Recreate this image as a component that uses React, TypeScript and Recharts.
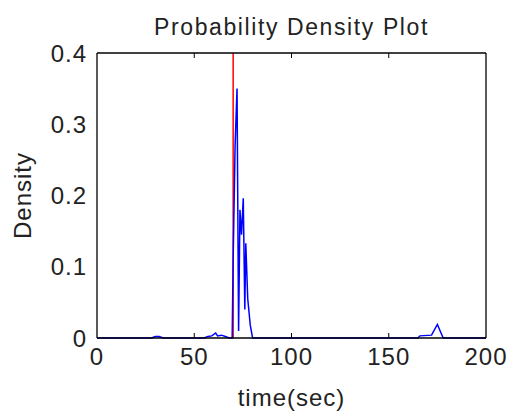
import { LineChart, Line, XAxis, YAxis, ReferenceLine } from 'recharts';

// density curve
const times = [
    0, 28, 30, 32, 34, 55, 57, 59, 61, 62, 64, 66, 68, 69.5, 70, 71, 72, 72.8, 73.5, 74.3, 75.2, 76,
    76.5, 77.5, 78.8, 80, 82, 165, 166, 172, 175, 178, 200,
];
const density = [
    0, 0, 0.002, 0.002, 0, 0, 0.002, 0.003, 0.007, 0.003, 0.004, 0.002, 0, 0, 0.11, 0.27, 0.35, 0.01,
    0.18, 0.145, 0.196, 0.04, 0.133, 0.055, 0.018, 0, 0, 0, 0.003, 0.004, 0.019, 0, 0,
];
const thresholdTime = 70;

const xTicks = [0, 50, 100, 150, 200];
const yTicks = [0, 0.1, 0.2, 0.3, 0.4];
const xInner = [50, 100, 150];
const yInner = [0.1, 0.2, 0.3];

const font = '"Liberation Sans", Arial, sans-serif';
const tickStyle = { fontSize: 24, fill: '#222', fontFamily: font, letterSpacing: 1 };
const noLabel = () => '';

export default function App() {
    const data = times.map((t, i) => ({ t, d: density[i] }));

    return (
        <div style={{ position: 'absolute', left: 0, top: 0, width: 509, height: 412, background: '#fff' }}>
            <div
                style={{
                    position: 'absolute',
                    left: 97,
                    width: 389,
                    top: 16,
                    textAlign: 'center',
                    fontFamily: font,
                    fontSize: 23,
                    lineHeight: '23px',
                    letterSpacing: 1.6,
                    color: '#222',
                }}
            >
                Probability Density Plot
            </div>
            <LineChart width={509} height={412} data={data} margin={{ top: 53, right: 23, bottom: 0, left: 0 }}>
                <XAxis
                    dataKey="t"
                    type="number"
                    domain={[0, 200]}
                    ticks={xTicks}
                    tickLine={false}
                    tickSize={0}
                    tickMargin={10}
                    height={74}
                    axisLine={{ stroke: '#000', strokeWidth: 1.3 }}
                    tick={tickStyle}
                    label={{ value: 'time(sec)', position: 'insideBottom', offset: 6, style: tickStyle }}
                />
                <XAxis
                    xAxisId="bottomTicks"
                    dataKey="t"
                    type="number"
                    domain={[0, 200]}
                    ticks={xInner}
                    mirror
                    height={1}
                    tickFormatter={noLabel}
                    axisLine={false}
                    tickSize={5}
                    tickLine={{ stroke: '#000' }}
                />
                <XAxis
                    xAxisId="top"
                    orientation="top"
                    dataKey="t"
                    type="number"
                    domain={[0, 200]}
                    ticks={xInner}
                    mirror
                    height={1}
                    tickFormatter={noLabel}
                    tickSize={5}
                    tickLine={{ stroke: '#000' }}
                    axisLine={{ stroke: '#000', strokeWidth: 1.3 }}
                />
                <YAxis
                    type="number"
                    domain={[0, 0.4]}
                    ticks={yTicks}
                    width={97}
                    tickLine={false}
                    tickSize={0}
                    tickMargin={10}
                    axisLine={{ stroke: '#000', strokeWidth: 1.3 }}
                    tick={tickStyle}
                    tickFormatter={(v) => (v === 0 ? '0' : v.toFixed(1))}
                    label={{ value: 'Density', angle: -90, position: 'insideLeft', offset: 22, style: { ...tickStyle, textAnchor: 'middle' } }}
                />
                <YAxis
                    yAxisId="leftTicks"
                    type="number"
                    domain={[0, 0.4]}
                    ticks={yInner}
                    mirror
                    width={1}
                    tickFormatter={noLabel}
                    axisLine={false}
                    tickSize={5}
                    tickLine={{ stroke: '#000' }}
                />
                <YAxis
                    yAxisId="right"
                    orientation="right"
                    type="number"
                    domain={[0, 0.4]}
                    ticks={yInner}
                    mirror
                    width={1}
                    tickFormatter={noLabel}
                    tickSize={5}
                    tickLine={{ stroke: '#000' }}
                    axisLine={{ stroke: '#000', strokeWidth: 1.3 }}
                />
                <ReferenceLine x={thresholdTime} stroke="#ff0000" strokeWidth={1.5} />
                <Line
                    type="linear"
                    dataKey="d"
                    stroke="#0000ff"
                    strokeWidth={1.5}
                    dot={false}
                    isAnimationActive={false}
                />
            </LineChart>
        </div>
    );
}
